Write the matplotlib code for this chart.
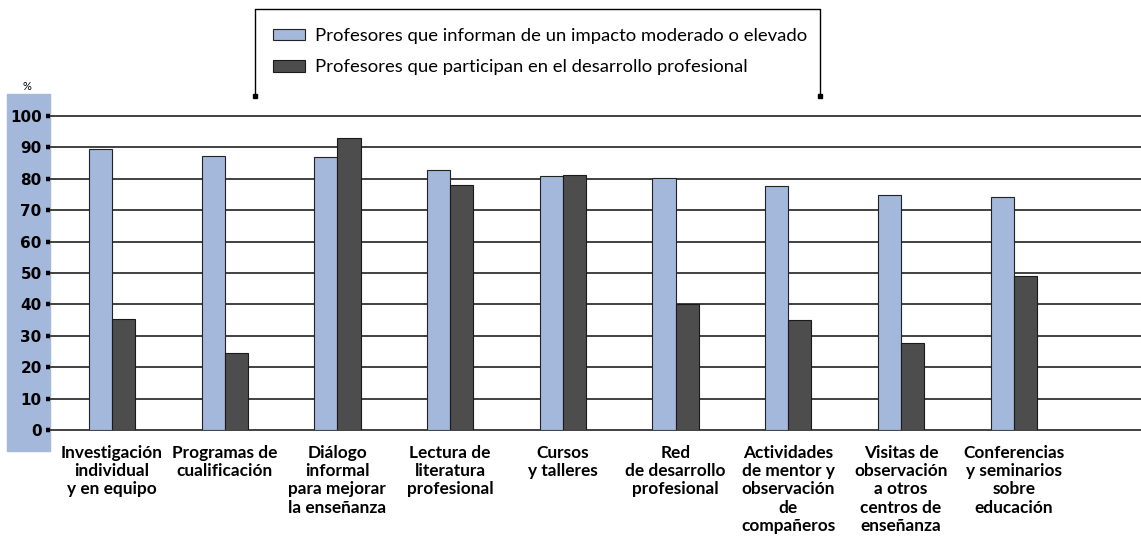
import matplotlib
matplotlib.use("Agg")
from matplotlib import pyplot as plt
from matplotlib.patches import Rectangle
from matplotlib.lines import Line2D
import numpy as np

categories = [
    "Investigación\nindividual\ny en equipo",
    "Programas de\ncualificación",
    "Diálogo\ninformal\npara mejorar\nla enseñanza",
    "Lectura de\nliteratura\nprofesional",
    "Cursos\ny talleres",
    "Red\nde desarrollo\nprofesional",
    "Actividades\nde mentor y\nobservación\nde\ncompañeros",
    "Visitas de\nobservación\na otros\ncentros de\nenseñanza",
    "Conferencias\ny seminarios\nsobre\neducación",
]
impacto = [89.5, 87.3, 86.9, 82.8, 80.8, 80.4, 77.7, 75.0, 74.1]
participan = [35.4, 24.5, 93.0, 78.0, 81.2, 40.0, 35.0, 27.6, 48.9]
yticks = [0, 10, 20, 30, 40, 50, 60, 70, 80, 90, 100]

label_impacto = "Profesores que informan de un impacto moderado o elevado"
label_particip = "Profesores que participan en el desarrollo profesional"

blue = "#A3B8DB"
dark = "#4D4D4D"

W, H = 1141, 539
fig = plt.figure(figsize=(W / 100, H / 100), dpi=100)

# blue band behind the y tick labels
fig.patches.append(Rectangle((7 / W, 1 - 451 / H), 43 / W, 357 / H,
                             transform=fig.transFigure, color=blue, zorder=-5))

ax = fig.add_axes([50 / W, 1 - 430 / H, 1 - 50 / W, 314 / H])
ax.patch.set_alpha(0)
ax.set_zorder(2)

x = np.arange(len(categories))
bw = 0.205
b1 = ax.bar(x - bw / 2, impacto, bw, color=blue, edgecolor="#222222", linewidth=0.8,
            label=label_impacto, zorder=3)
b2 = ax.bar(x + bw / 2, participan, bw, color=dark, edgecolor="#1a1a1a", linewidth=0.8,
            label=label_particip, zorder=3)

for v in yticks:
    ax.axhline(v, color="#333333", lw=1.3, zorder=1, clip_on=False)

ax.set_xlim(-0.55, len(categories) - 1 + 1.13)
ax.set_ylim(0, 100)
for s in ax.spines.values():
    s.set_visible(False)

ax.set_yticks(yticks)
ax.set_yticklabels([str(v) for v in yticks], fontfamily="DejaVu Sans",
                   fontweight="bold", fontsize=11)
ax.tick_params(axis="y", length=3, width=3.2, color="black", pad=3)

ax.set_xticks(x)
ax.set_xticklabels(categories, fontfamily="Lato", fontweight="bold", fontsize=12.4,
                   linespacing=1.16, va="top")
ax.tick_params(axis="x", length=0, pad=11)

fig.text(27 / W, 1 - 87 / H, "%", fontsize=8, ha="center", va="center",
         fontfamily="Lato")

# legend with its bracket frame
fig.legend(handles=[b1, b2], loc="upper left", bbox_to_anchor=(273 / W, 1 - 28 / H),
           frameon=False, prop={"family": "Lato", "size": 13.3},
           borderpad=0, borderaxespad=0,
           handlelength=1.75, handleheight=0.6, handletextpad=0.55, labelspacing=0.82)
lx0, lx1, ly0, ly1 = 255 / W, 820 / W, 1 - 9 / H, 1 - 96 / H
fig.lines.append(Line2D([lx0, lx0, lx1, lx1], [ly1, ly0, ly0, ly1],
                        transform=fig.transFigure, color="black", lw=1))
fig.lines.append(Line2D([lx0, lx1], [ly1, ly1], transform=fig.transFigure,
                        color="black", lw=0, marker="s", markersize=3.5))

fig.savefig("out.png", dpi=100)
